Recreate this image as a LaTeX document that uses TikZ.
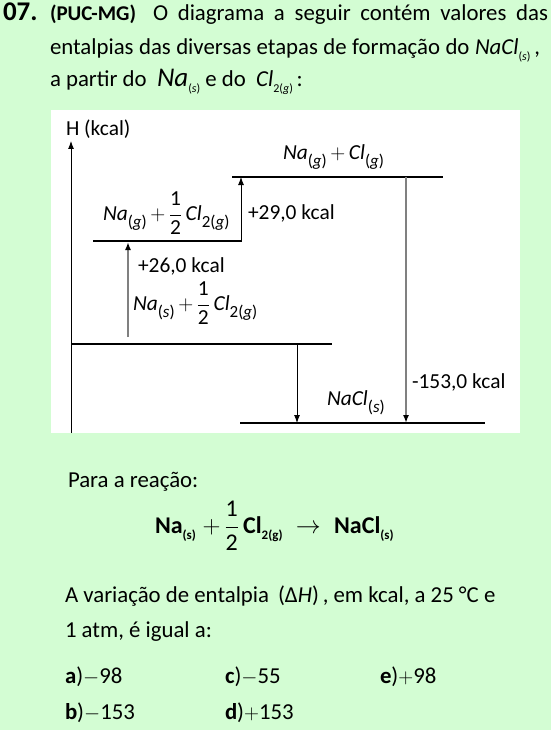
\documentclass[tikz,border=0pt]{standalone}
\usepackage{fontspec}
\setmainfont{Carlito}
\usetikzlibrary{arrows.meta}
\definecolor{bgreen}{RGB}{211,253,211}
\definecolor{arrgray}{RGB}{128,128,128}
\newcommand{\dsub}[1]{\raisebox{-7pt}{\fontsize{17}{17}\selectfont #1}}
\newcommand{\hsub}[1]{\raisebox{-6pt}{\fontsize{12}{12}\selectfont #1}}
\newcommand{\esub}[1]{\raisebox{-6pt}{\fontsize{13}{13}\selectfont\bfseries #1}}
\newcommand{\half}{$\displaystyle\frac{\mbox{1}}{\mbox{2}}$}
\begin{document}
\begin{tikzpicture}[x=1pt,y=-1pt,
  every node/.style={inner sep=0pt,outer sep=0pt,anchor=base west},
  body/.style={font=\fontsize{22.8}{26}\selectfont},
  dlab/.style={font=\fontsize{21.4}{25}\selectfont},
  lvl/.style={line width=1.8pt,black},
  barrow/.style={line width=0.9pt,black,-{Latex[length=8pt,width=6pt]}},
  garrow/.style={line width=1.8pt,arrgray,-{Latex[length=8pt,width=6pt,fill=black,color=black]}}]
\useasboundingbox (0,0) rectangle (551,730);
\fill[bgreen] (0,0) rectangle (551,730);
\fill[white] (51,110) rectangle (520,433);

% header
\node[font=\fontsize{27}{30}\selectfont\bfseries] (num) at (3,21) {07.};
\node[font=\fontsize{21}{24}\selectfont\bfseries] (src) at (50,21) {(PUC-MG)};
\node[body] (l1) at (153,21) {\makebox[395pt][s]{O diagrama a seguir contém valores das}};
\node[body] (l2) at (50,55) {\makebox[490pt][s]{entalpias das diversas etapas de formação do \textit{NaCl}\hsub{(\textit{s})}\,,}};
\node[body] (l3) at (50,87) {a partir do \ {\fontsize{27}{30}\selectfont\textit{Na}}\hsub{(\textit{s})} e do \ \textit{Cl}\hsub{2(\textit{g})}\,:};

% diagram coordinates
\coordinate (ax0) at (71,433);
\coordinate (ax1) at (71,141);
\coordinate (L1a) at (232,177); \coordinate (L1b) at (443,177);
\coordinate (L2a) at (93,241);  \coordinate (L2b) at (242,241);
\coordinate (L3a) at (72,344);  \coordinate (L3b) at (332,344);
\coordinate (L4a) at (240,423); \coordinate (L4b) at (485,423);
\coordinate (a29s) at (241,241); \coordinate (a29e) at (241,177);
\coordinate (a26s) at (128,337); \coordinate (a26e) at (128,242);
\coordinate (ads) at (297,344);  \coordinate (ade) at (297,423);
\coordinate (a153s) at (406,177); \coordinate (a153e) at (406,423);

\draw[barrow] (ax0) -- (ax1);
\draw[lvl] (L1a) -- (L1b);
\draw[lvl] (L2a) -- (L2b);
\draw[lvl] (L3a) -- (L3b);
\draw[lvl] (L4a) -- (L4b);
\draw[barrow] (a29s) -- (a29e);
\draw[garrow] (a26s) -- (a26e);
\draw[barrow] (ads) -- (ade);
\draw[garrow] (a153s) -- (a153e);

\node[dlab] (hax) at (66,136) {H (kcal)};
\node[dlab] (top) at (283,160) {\textit{Na}\dsub{(\textit{g})}\,$+$\,\textit{Cl}\dsub{(\textit{g})}};
\node[dlab] (mid) at (103,220) {\textit{Na}\dsub{(\textit{g})}\,$+$\,\half\,\textit{Cl}\dsub{2(\textit{g})}};
\node[dlab] (e29) at (248,219) {+29,0 kcal};
\node[dlab] (e26) at (138,272) {+26,0 kcal};
\node[dlab] (low) at (133,310) {\textit{Na}\dsub{(\textit{s})}\,$+$\,\half\,\textit{Cl}\dsub{2(\textit{g})}};
\node[dlab] (e153) at (412,388) {-153,0 kcal};
\node[dlab] (nacl) at (327,405) {\textit{NaCl}\dsub{(\textit{s})}};

% question
\node[body] (para) at (68,487) {Para a reação:};
\node[font=\fontsize{24}{28}\selectfont] (eq) at (155,533) {\textbf{Na}\esub{(s)}\;$+$\,\half\,\textbf{Cl}\esub{2(g)}\;\;$\rightarrow$\;\;\textbf{NaCl}\esub{(s)}};
\node[body] (q1) at (65,602) {A variação de entalpia \,(Δ\textit{H})\,, em kcal, a 25 °C e};
\node[body] (q2) at (65,637) {1 atm, é igual a:};
\node[body] (oa) at (65,683) {\textbf{a})$-$98};
\node[body] (oc) at (225,683) {\textbf{c})$-$55};
\node[body] (oe) at (380,683) {\textbf{e})$+$98};
\node[body] (ob) at (65,719) {\textbf{b})$-$153};
\node[body] (od) at (225,719) {\textbf{d})$+$153};
\end{tikzpicture}
\end{document}
